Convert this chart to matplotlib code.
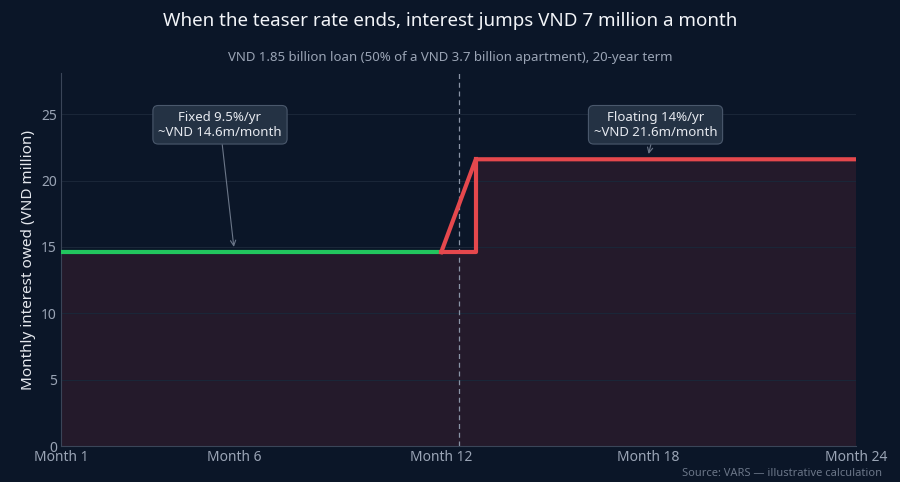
import matplotlib
matplotlib.use("Agg")
import matplotlib.pyplot as plt

fixed_months = [1, 6, 12]
fixed_values = [14.6, 14.6, 14.6]
float_months = [12, 13, 18, 24]
float_values = [14.6, 21.6, 21.6, 21.6]
step_months = [12, 13, 13]
step_values = [14.6, 14.6, 21.6]
tick_pos = [1, 6, 12, 18, 24]
tick_labels = ["Month 1", "Month 6", "Month 12", "Month 18", "Month 24"]

BG = "#0b1628"
plt.rcParams['font.family'] = ['Noto Sans', 'DejaVu Sans']
fig = plt.figure(figsize=(9, 4.82), dpi=100, facecolor=BG)
ax = fig.add_axes([61/900, 36/482, 795/900, 373/482])
ax.set_facecolor(BG)

fillc = "#241a2b"
ax.fill_between(fixed_months, fixed_values, 0, color=fillc, lw=0)
ax.fill_between(float_months[1:], float_values[1:], 0, color=fillc, lw=0)
ax.fill_between([12, 13], [14.6, 14.6], 0, color=fillc, lw=0)

ax.plot(fixed_months, fixed_values, color="#22c55e", lw=3, solid_capstyle="butt", zorder=3)
ax.plot(float_months, float_values, color="#e5484d", lw=3, zorder=4)
ax.plot(step_months, step_values, color="#e5484d", lw=3, zorder=4)
ax.axvline(12.5, color="#8a94a6", ls=(0, (4, 3)), lw=0.9)

ax.set_xlim(1, 24)
ax.set_ylim(0, 28.1)
ax.set_xticks(tick_pos)
ax.set_xticklabels(tick_labels)
ax.set_yticks([0, 5, 10, 15, 20, 25])
ax.tick_params(colors="#9aa4b5", labelsize=10, length=0, pad=3)
ax.grid(axis="y", color="#1a2638", lw=0.8)
for s in ax.spines.values():
    s.set_visible(False)
ax.spines["bottom"].set_visible(True)
ax.spines["bottom"].set_color("#3a4558")
ax.spines["left"].set_visible(True)
ax.spines["left"].set_color("#3a4558")
ax.set_ylabel("Monthly interest owed (VND million)", color="#e6e9ef", fontsize=11)

bbox = dict(boxstyle="round,pad=0.4", fc="#243244", ec="#4a586c", lw=0.8)
ax.annotate("Fixed 9.5%/yr\n~VND 14.6m/month", xy=(6, 15), xytext=(5.6, 24.2),
            ha="center", va="center", color="#e6e9ef", fontsize=9.5, bbox=bbox,
            arrowprops=dict(arrowstyle="->", color="#6b7688", lw=0.8, shrinkA=0, shrinkB=0))
ax.annotate("Floating 14%/yr\n~VND 21.6m/month", xy=(18, 22), xytext=(18.2, 24.2),
            ha="center", va="center", color="#e6e9ef", fontsize=9.5, bbox=bbox,
            arrowprops=dict(arrowstyle="->", color="#6b7688", lw=0.8, shrinkA=0, shrinkB=0))

fig.text(0.5, 1 - 21/482, "When the teaser rate ends, interest jumps VND 7 million a month",
         ha="center", va="center", color="#f2f4f8", fontsize=13.5)
fig.text(0.5, 1 - 58/482, "VND 1.85 billion loan (50% of a VND 3.7 billion apartment), 20-year term",
         ha="center", va="center", color="#9aa4b5", fontsize=9.5)
fig.text(882/900, 1 - 474/482, "Source: VARS — illustrative calculation",
         ha="right", va="center", color="#6b7688", fontsize=8)
fig.savefig("out.png", dpi=100, facecolor=BG)
